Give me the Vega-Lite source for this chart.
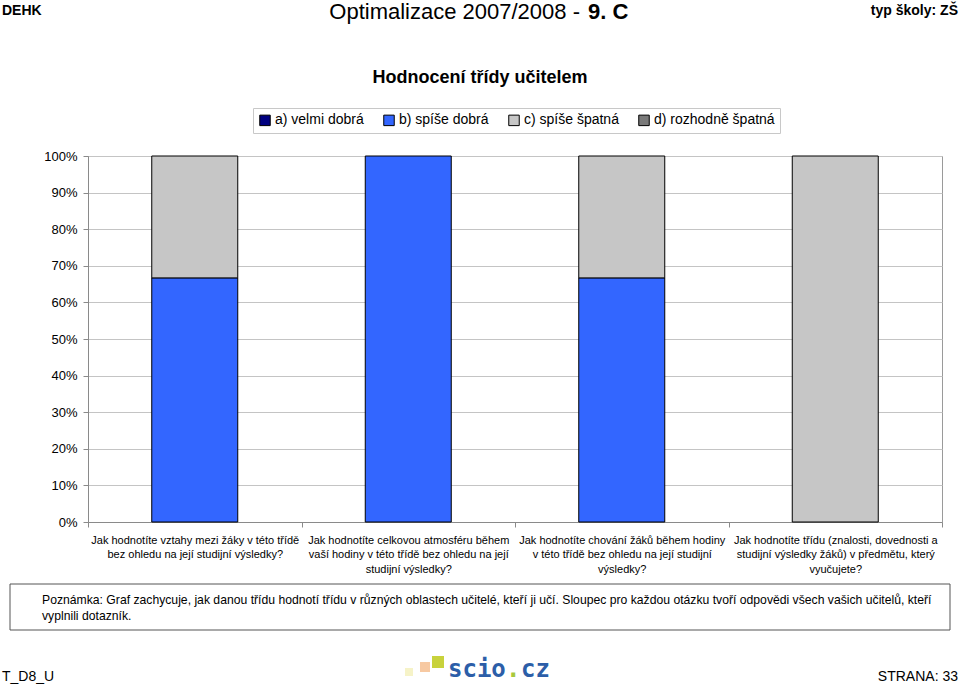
{
  "$schema": "https://vega.github.io/schema/vega-lite/v6.json",
  "width": 854,
  "height": 366,
  "autosize": {"type": "none"},
  "padding": {"left": 88, "top": 156, "right": 18, "bottom": 162},
  "background": "white",
  "config": {
    "font": "Liberation Sans",
    "view": {"stroke": "#9a9a9a", "strokeWidth": 1}
  },
  "layer": [
    {
      "data": {
        "values": [
          {"q": "Jak hodnotíte vztahy mezi žáky v této třídě\nbez ohledu na její studijní výsledky?", "resp": "a) velmi dobrá", "pct": 0},
          {"q": "Jak hodnotíte vztahy mezi žáky v této třídě\nbez ohledu na její studijní výsledky?", "resp": "b) spíše dobrá", "pct": 66.7},
          {"q": "Jak hodnotíte vztahy mezi žáky v této třídě\nbez ohledu na její studijní výsledky?", "resp": "c) spíše špatná", "pct": 33.3},
          {"q": "Jak hodnotíte vztahy mezi žáky v této třídě\nbez ohledu na její studijní výsledky?", "resp": "d) rozhodně špatná", "pct": 0},
          {"q": "Jak hodnotíte celkovou atmosféru během\nvaší hodiny  v této třídě bez ohledu na její\nstudijní výsledky?", "resp": "a) velmi dobrá", "pct": 0},
          {"q": "Jak hodnotíte celkovou atmosféru během\nvaší hodiny  v této třídě bez ohledu na její\nstudijní výsledky?", "resp": "b) spíše dobrá", "pct": 100},
          {"q": "Jak hodnotíte celkovou atmosféru během\nvaší hodiny  v této třídě bez ohledu na její\nstudijní výsledky?", "resp": "c) spíše špatná", "pct": 0},
          {"q": "Jak hodnotíte celkovou atmosféru během\nvaší hodiny  v této třídě bez ohledu na její\nstudijní výsledky?", "resp": "d) rozhodně špatná", "pct": 0},
          {"q": "Jak hodnotíte chování žáků během hodiny\nv této třídě bez ohledu na její studijní\nvýsledky?", "resp": "a) velmi dobrá", "pct": 0},
          {"q": "Jak hodnotíte chování žáků během hodiny\nv této třídě bez ohledu na její studijní\nvýsledky?", "resp": "b) spíše dobrá", "pct": 66.7},
          {"q": "Jak hodnotíte chování žáků během hodiny\nv této třídě bez ohledu na její studijní\nvýsledky?", "resp": "c) spíše špatná", "pct": 33.3},
          {"q": "Jak hodnotíte chování žáků během hodiny\nv této třídě bez ohledu na její studijní\nvýsledky?", "resp": "d) rozhodně špatná", "pct": 0},
          {"q": "Jak hodnotíte třídu (znalosti, dovednosti a\nstudijní výsledky žáků) v předmětu, který\nvyučujete?", "resp": "a) velmi dobrá", "pct": 0},
          {"q": "Jak hodnotíte třídu (znalosti, dovednosti a\nstudijní výsledky žáků) v předmětu, který\nvyučujete?", "resp": "b) spíše dobrá", "pct": 0},
          {"q": "Jak hodnotíte třídu (znalosti, dovednosti a\nstudijní výsledky žáků) v předmětu, který\nvyučujete?", "resp": "c) spíše špatná", "pct": 100},
          {"q": "Jak hodnotíte třídu (znalosti, dovednosti a\nstudijní výsledky žáků) v předmětu, který\nvyučujete?", "resp": "d) rozhodně špatná", "pct": 0}
        ]
      },
      "transform": [{"filter": "datum.pct > 0"}],
      "mark": {"type": "bar", "size": 86, "stroke": "black", "strokeWidth": 1},
      "encoding": {
        "x": {
          "field": "q", "type": "nominal", "sort": null,
          "scale": {"paddingInner": 0, "paddingOuter": 0},
          "axis": {
            "title": null, "labelAngle": 0, "labelExpr": "datum.value ? split(datum.value, '\\n') : ''",
            "labelFontSize": 11, "labelLineHeight": 14.5, "labelPadding": 7,
            "labelColor": "black", "labelLimit": 0, "tickBand": "extent",
            "tickSize": 5, "tickColor": "#8a8a8a", "domainColor": "#8a8a8a"
          }
        },
        "y": {
          "field": "pct", "type": "quantitative", "stack": "zero",
          "scale": {"domain": [0, 100], "nice": false},
          "axis": {
            "title": null, "values": [0, 10, 20, 30, 40, 50, 60, 70, 80, 90, 100],
            "labelExpr": "datum.value + '%'", "labelFontSize": 13, "labelColor": "black",
            "labelPadding": 6, "tickSize": 5, "tickColor": "#8a8a8a", "domainColor": "#8a8a8a",
            "gridColor": "#c4c4c4"
          }
        },
        "color": {
          "field": "resp", "type": "nominal",
          "scale": {
            "domain": ["a) velmi dobrá", "b) spíše dobrá", "c) spíše špatná", "d) rozhodně špatná"],
            "range": ["#000080", "#3366ff", "#c6c6c6", "#7a7a7a"]
          },
          "legend": {
            "title": null, "orient": "none", "legendX": 165, "legendY": -48,
            "direction": "horizontal", "strokeColor": "#c8c8c8", "fillColor": "white",
            "padding": 5, "labelFontSize": 14, "labelColor": "black", "symbolType": "square",
            "symbolSize": 110, "symbolStrokeColor": "black", "symbolStrokeWidth": 1,
            "columnPadding": 17, "labelOffset": 3, "labelLimit": 0
          }
        },
        "order": {"field": "resp", "sort": "ascending"}
      }
    },
    {
      "data": {"values": [{}]},
      "mark": {"type": "text", "text": "DEHK", "x": -86, "y": -141, "align": "left", "baseline": "alphabetic", "fontSize": 14, "fontWeight": "bold", "color": "black"}
    },
    {
      "data": {"values": [{}]},
      "mark": {"type": "text", "text": "Optimalizace 2007/2008 - ", "x": 492, "y": -137, "align": "right", "baseline": "alphabetic", "fontSize": 22, "color": "black"}
    },
    {
      "data": {"values": [{}]},
      "mark": {"type": "text", "text": "9. C", "x": 500, "y": -137, "align": "left", "baseline": "alphabetic", "fontSize": 22, "fontWeight": "bold", "color": "black"}
    },
    {
      "data": {"values": [{}]},
      "mark": {"type": "text", "text": "typ školy: ZŠ", "x": 870, "y": -141, "align": "right", "baseline": "alphabetic", "fontSize": 14, "fontWeight": "bold", "color": "black"}
    },
    {
      "data": {"values": [{}]},
      "mark": {"type": "text", "text": "Hodnocení třídy učitelem", "x": 392, "y": -73, "align": "center", "baseline": "alphabetic", "fontSize": 18, "fontWeight": "bold", "color": "black"}
    },
    {
      "data": {"values": [{}]},
      "mark": {"type": "rect", "x": -78, "x2": 862, "y": 428, "y2": 474, "fill": "white", "stroke": "#555555", "strokeWidth": 1}
    },
    {
      "data": {"values": [{}]},
      "mark": {"type": "text", "text": ["Poznámka:  Graf zachycuje, jak danou třídu hodnotí třídu v různých oblastech učitelé, kteří ji učí. Sloupec pro každou otázku tvoří odpovědi všech vašich učitelů, kteří", "vyplnili dotazník."], "x": -78, "dx": 32, "y": 448, "lineHeight": 16, "align": "left", "baseline": "alphabetic", "fontSize": 12.2, "color": "black"}
    },
    {
      "data": {"values": [{}]},
      "mark": {"type": "text", "text": "T_D8_U", "x": -86, "y": 525, "align": "left", "baseline": "alphabetic", "fontSize": 14, "color": "black"}
    },
    {
      "data": {"values": [{}]},
      "mark": {"type": "text", "text": "STRANA: 33", "x": 870, "y": 525, "align": "right", "baseline": "alphabetic", "fontSize": 14, "color": "black"}
    },
    {
      "data": {"values": [{}]},
      "mark": {"type": "rect", "x": 317, "x2": 325, "y": 512, "y2": 520, "fill": "#f6f3c8"}
    },
    {
      "data": {"values": [{}]},
      "mark": {"type": "rect", "x": 332, "x2": 342, "y": 506, "y2": 516, "fill": "#f7c9a2"}
    },
    {
      "data": {"values": [{}]},
      "mark": {"type": "rect", "x": 344, "x2": 356, "y": 500, "y2": 512, "fill": "#c8d23c"}
    },
    {
      "data": {"values": [{}]},
      "mark": {"type": "text", "text": "scio", "x": 360, "y": 521, "align": "left", "baseline": "alphabetic", "fontSize": 24, "font": "DejaVu Sans Mono", "fontWeight": "bold", "color": "#2c5ea8"}
    },
    {
      "data": {"values": [{}]},
      "mark": {"type": "text", "text": ".", "x": 418, "y": 521, "align": "left", "baseline": "alphabetic", "fontSize": 24, "font": "DejaVu Sans Mono", "fontWeight": "bold", "color": "#a8c83c"}
    },
    {
      "data": {"values": [{}]},
      "mark": {"type": "text", "text": "cz", "x": 433, "y": 521, "align": "left", "baseline": "alphabetic", "fontSize": 24, "font": "DejaVu Sans Mono", "fontWeight": "bold", "color": "#2c5ea8"}
    }
  ]
}
